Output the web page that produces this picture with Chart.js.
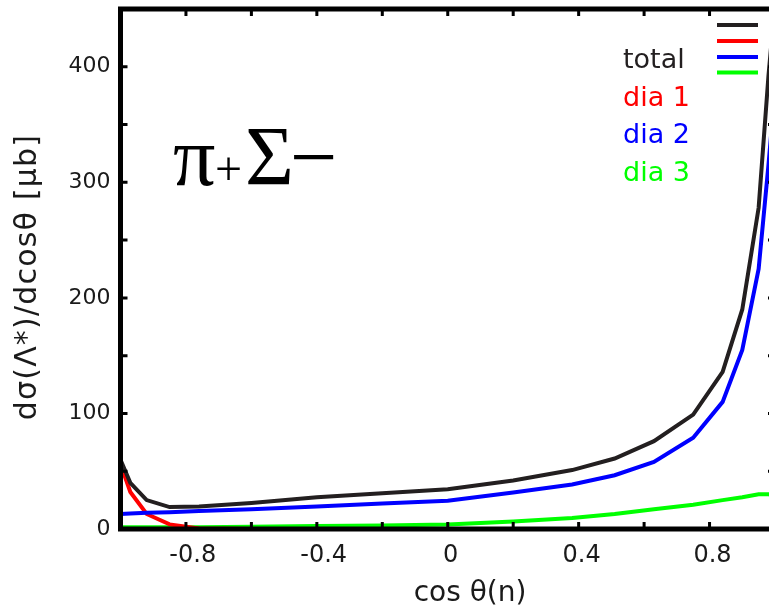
<!DOCTYPE html>
<html>
<head>
<meta charset="utf-8">
<title>pi+ Sigma- : dsigma/dcos theta</title>
<script src="https://cdn.jsdelivr.net/npm/chart.js@4.4.1/dist/chart.umd.min.js"></script>
<style>
  html, body { margin: 0; padding: 0; background: #fff; overflow: hidden; }
  #wrap { width: 780px; height: 613px; }
</style>
</head>
<body>
<div id="wrap"><canvas id="chart" width="780" height="613"></canvas></div>
<script>
// values (cos theta on x, microbarn on y)
const cosTheta = [-1, -0.97, -0.92, -0.85, -0.76, -0.6, -0.4, -0.2, 0, 0.2, 0.38, 0.51, 0.63, 0.75, 0.84, 0.9, 0.95, 0.98, 1]
const total = [60, 40, 25, 19, 19.5, 22.5, 27.5, 31, 34.5, 42, 51, 61, 76, 99, 136, 190, 278, 392, 455]
const dia1 = [56, 32, 13, 4, 0.5, 0, 0, 0, 0, 0, 0, 0, 0, 0, 0, 0, 0, 0, 0]
const dia2 = [13, 13.5, 14, 14.5, 15.5, 17, 19.5, 22, 24.5, 31.5, 38.5, 46.5, 58, 79, 110, 155, 225, 315, 380]
const dia3 = [1.5, 1.5, 1.5, 1.5, 1.5, 2, 2.5, 3, 4, 6.5, 9.5, 13, 17, 21, 25, 27.5, 30, 30, 29]

const xLabelTicks = [-0.8, -0.4, 0, 0.4, 0.8]
const xMinorTicks = [-0.8, -0.6, -0.4, -0.2, 0, 0.2, 0.4, 0.6, 0.8]
const yLabelTicks = [0, 100, 200, 300, 400]
const yMinorTicks = [50, 100, 150, 200, 250, 300, 350, 400]
const seriesNames = ["total", "dia 1", "dia 2", "dia 3"]

const colors = ["#231f20", "#ff0000", "#0000ff", "#00ff00"]
const font = "DejaVu Sans"

function points(values) {
  return cosTheta.map((x, i) => ({ x: x, y: values[i] }))
}

function line(label, values, color, order) {
  return {
    label: label,
    data: points(values),
    borderColor: color,
    borderWidth: 4,
    pointRadius: 0,
    tension: 0,
    fill: false,
    order: order,
  }
}

// frame, inward ticks, legend, axis titles and the reaction label
const decorations = {
  id: "decorations",
  afterDraw: (chart) => {
    const ctx = chart.ctx
    const area = chart.chartArea
    const xs = chart.scales.x
    const ys = chart.scales.y
    ctx.save()

    ctx.strokeStyle = "#000"
    ctx.lineWidth = 3
    ctx.beginPath()
    xMinorTicks.forEach((v) => {
      const px = xs.getPixelForValue(v)
      ctx.moveTo(px, area.bottom)
      ctx.lineTo(px, area.bottom - 7)
      ctx.moveTo(px, area.top)
      ctx.lineTo(px, area.top + 7)
    })
    yMinorTicks.forEach((v) => {
      const py = ys.getPixelForValue(v)
      ctx.moveTo(area.left, py)
      ctx.lineTo(area.left + 7, py)
      ctx.moveTo(area.right, py)
      ctx.lineTo(area.right - 7, py)
    })
    ctx.stroke()

    ctx.lineWidth = 5
    ctx.strokeRect(area.left, area.top, area.right - area.left, area.bottom - area.top)

    // legend: names and line samples sit apart, like the original
    ctx.font = "27px '" + font + "'"
    ctx.textAlign = "left"
    ctx.textBaseline = "alphabetic"
    const textY = [68, 105.5, 143, 180.5]
    const sampleY = [25, 41, 57, 72.5]
    ctx.lineWidth = 4
    seriesNames.forEach((name, i) => {
      ctx.fillStyle = colors[i]
      ctx.fillText(name, 623, textY[i])
      ctx.strokeStyle = colors[i]
      ctx.beginPath()
      ctx.moveTo(717, sampleY[i])
      ctx.lineTo(758, sampleY[i])
      ctx.stroke()
    })

    // axis titles
    ctx.fillStyle = "#1a1a1a"
    ctx.textAlign = "center"
    ctx.font = "28px '" + font + "'"
    ctx.fillText("cos θ(n)", 470, 601)

    ctx.save()
    ctx.translate(28, 277)
    ctx.rotate(-Math.PI / 2)
    ctx.textBaseline = "middle"
    ctx.font = "30px '" + font + "'"
    ctx.letterSpacing = "1.2px"
    ctx.fillText("dσ(Λ*)/dcosθ [μb]", 0, 0)
    ctx.restore()

    // reaction label
    ctx.textAlign = "left"
    ctx.textBaseline = "alphabetic"
    ctx.fillStyle = "#000"
    ctx.font = "84px 'Liberation Serif'"
    ctx.fillText("π", 173, 185)
    ctx.fillText("Σ", 245, 185)
    ctx.fillText("−", 290, 185)
    ctx.font = "48px 'Liberation Serif'"
    ctx.fillText("+", 215, 185)

    ctx.restore()
  },
}

new Chart(document.getElementById("chart"), {
  type: "line",
  data: {
    datasets: [
      line(seriesNames[0], total, colors[0], 0),
      line(seriesNames[1], dia1, colors[1], 2),
      line(seriesNames[2], dia2, colors[2], 1),
      line(seriesNames[3], dia3, colors[3], 3),
    ],
  },
  options: {
    responsive: false,
    animation: false,
    layout: { padding: { top: 9, right: 5, left: 0, bottom: 0 } },
    plugins: {
      legend: { display: false },
      tooltip: { enabled: false },
    },
    scales: {
      x: {
        type: "linear",
        min: -1,
        max: 1,
        afterBuildTicks: (s) => {
          s.ticks = xLabelTicks.map((v) => ({ value: v }))
        },
        afterFit: (s) => {
          s.height = 84
          s.paddingLeft = 0
          s.paddingRight = 0
        },
        grid: { display: false, drawTicks: false },
        border: { display: false },
        ticks: {
          font: { family: font, size: 24 },
          color: "#1a1a1a",
          padding: 12,
          labelOffset: 3,
          autoSkip: false,
          maxRotation: 0,
          callback: (v) => (v < 0 ? " " + v : String(v)),
        },
      },
      y: {
        type: "linear",
        min: 0,
        max: 450,
        afterBuildTicks: (s) => {
          s.ticks = yLabelTicks.map((v) => ({ value: v }))
        },
        afterFit: (s) => {
          s.width = 120.5
          s.paddingTop = 0
          s.paddingBottom = 0
        },
        grid: { display: false, drawTicks: false },
        border: { display: false },
        ticks: {
          font: { family: font, size: 22 },
          color: "#1a1a1a",
          padding: 10,
          autoSkip: false,
        },
      },
    },
  },
  plugins: [decorations],
})
</script>
</body>
</html>
